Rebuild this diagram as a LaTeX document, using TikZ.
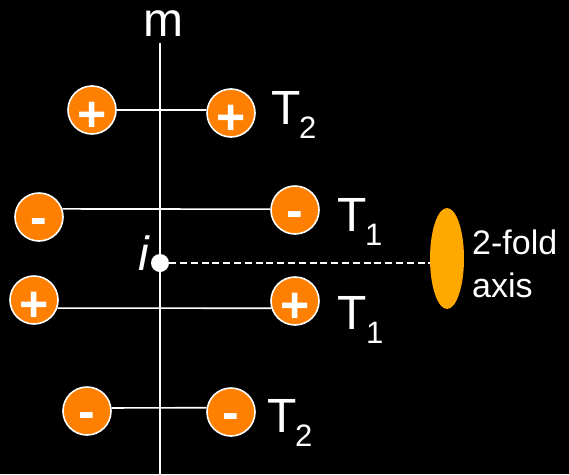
\documentclass[tikz,border=0pt]{standalone}
\usepackage{fontspec}
\setmainfont{Liberation Sans}
\usetikzlibrary{shapes.geometric}
\definecolor{chg}{HTML}{FF8000}
\definecolor{axcol}{HTML}{FFA800}
\newcommand{\psign}{\raisebox{-21pt}[0pt][0pt]{+}}
\newcommand{\nsign}{\raisebox{-17pt}[0pt][0pt]{-}}
\begin{document}
\begin{tikzpicture}[x=1pt,y=-1pt,
  ion/.style={circle,fill=chg,draw=white,line width=1.6pt,minimum size=48pt,inner sep=0pt,
     text=white,font=\fontsize{50}{50}\bfseries\selectfont},
  wline/.style={draw=white,line width=1.6pt},
  lbl/.style={text=white,inner sep=0pt,anchor=base west,font=\fontsize{48}{48}\selectfont},
  sub/.style={font=\fontsize{31}{31}\selectfont}]
\fill[black] (0,0) rectangle (569,474);
\useasboundingbox (0,0) rectangle (569,474);
% mirror line
\coordinate (mtop) at (160,43);
\coordinate (mbot) at (160,474);
\draw[wline] (mtop) -- (mbot);
\node[text=white,inner sep=0pt,anchor=base,text height=26pt,text depth=0pt,font=\fontsize{48}{48}\selectfont] (mlab) at (163,36) {m};
% ions
\node[ion] (a1) at (92,110) {\psign};
\node[ion] (b1) at (231,113) {\psign};
\node[ion] (a2) at (39,217) {\nsign};
\node[ion] (b2) at (295,210) {\nsign};
\node[ion] (a3) at (34,300) {\psign};
\node[ion] (b3) at (295,301) {\psign};
\node[ion] (a4) at (87,411) {\nsign};
\node[ion] (b4) at (231,412) {\nsign};
\draw[wline] (a1.0) -- (b1.173);
\draw[wline] (a2.19) -- (b2.178);
\draw[wline] (a3.-19) -- (b3.197);
\draw[wline] (a4.7) -- (b4.170);
% labels
\node[lbl] (t1) at (271,124) {T};
\node[lbl,sub] (t1s) at (299,138) {2};
\node[lbl] (t2) at (337,231) {T};
\node[lbl,sub] (t2s) at (365,245) {1};
\node[lbl] (t3) at (337,329) {T};
\node[lbl,sub] (t3s) at (366,343) {1};
\node[lbl] (t4) at (267,432) {T};
\node[lbl,sub] (t4s) at (295,446) {2};
% inversion centre and 2-fold axis
\node[circle,fill=white,minimum size=18pt,inner sep=0pt] (ic) at (160,263) {};
\node[lbl,font=\fontsize{48}{48}\itshape\selectfont] (ilab) at (138,270) {i};
\node[ellipse,fill=axcol,minimum width=34pt,minimum height=101pt,inner sep=0pt] (ax) at (447,258.5) {};
\draw[white,line width=1.4pt,dash pattern=on 7pt off 3.8pt] (ic.east) -- (ax.west |- ic.east);
\node[lbl,font=\fontsize{34}{34}\selectfont] (fold) at (472,254) {2-fold};
\node[lbl,font=\fontsize{34}{34}\selectfont] (axis) at (472,297) {axis};
\end{tikzpicture}
\end{document}
